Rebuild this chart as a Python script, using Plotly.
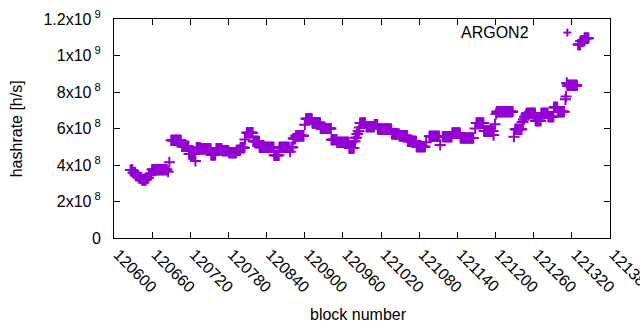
import plotly.graph_objects as go

# runs of consecutive blocks sharing the same hashrate
run_start = [120626, 120630, 120634, 120639, 120644, 120651, 120655, 120660, 120685, 120687,
             120690, 120707, 120718, 120728, 120730, 120736, 120753, 120761, 120770, 120781,
             120793, 120799, 120806, 120809, 120819, 120829, 120852, 120860, 120877, 120879,
             120882, 120886, 120900, 120902, 120912, 120925, 120942, 120951, 120970, 120978,
             120980, 120982, 120984, 120986, 120987, 120997, 121010, 121015, 121037, 121049,
             121062, 121076, 121091, 121096, 121113, 121117, 121132, 121145, 121168, 121170,
             121182, 121197, 121199, 121201, 121202, 121229, 121231, 121242, 121244, 121246,
             121248, 121249, 121263, 121272, 121283, 121292, 121298, 121310, 121311, 121312,
             121313, 121330, 121334, 121340]
run_end = [120629, 120633, 120638, 120643, 120650, 120654, 120658, 120683, 120685, 120687,
           120705, 120717, 120727, 120728, 120735, 120752, 120759, 120769, 120780, 120792,
           120798, 120805, 120806, 120818, 120828, 120851, 120859, 120875, 120877, 120881,
           120885, 120898, 120900, 120911, 120924, 120941, 120950, 120969, 120977, 120979,
           120981, 120983, 120985, 120986, 120995, 121009, 121014, 121036, 121048, 121061,
           121075, 121089, 121091, 121111, 121113, 121131, 121144, 121165, 121168, 121181,
           121196, 121197, 121199, 121201, 121227, 121229, 121241, 121243, 121245, 121247,
           121248, 121262, 121271, 121282, 121291, 121297, 121308, 121310, 121311, 121312,
           121328, 121333, 121339, 121346]
run_hashrate = [3.72e8, 3.58e8, 3.42e8, 3.30e8, 3.18e8, 3.30e8, 3.48e8, 3.75e8, 3.63e8, 4.15e8,
                5.35e8, 5.02e8, 4.60e8, 4.22e8, 4.95e8, 4.88e8, 4.55e8, 4.90e8, 4.78e8, 4.67e8,
                4.80e8, 4.95e8, 5.40e8, 5.77e8, 5.30e8, 4.97e8, 4.53e8, 4.97e8, 4.73e8, 4.97e8,
                5.45e8, 5.60e8, 6.20e8, 6.53e8, 6.31e8, 6.00e8, 5.39e8, 5.24e8, 4.93e8, 5.30e8,
                5.50e8, 5.70e8, 5.85e8, 6.05e8, 6.30e8, 6.10e8, 6.22e8, 5.97e8, 5.70e8, 5.60e8,
                5.30e8, 5.00e8, 5.24e8, 5.57e8, 5.10e8, 5.55e8, 5.75e8, 5.48e8, 6.00e8, 6.30e8,
                5.86e8, 5.64e8, 6.23e8, 6.80e8, 6.92e8, 5.55e8, 5.96e8, 6.35e8, 6.50e8, 6.65e8,
                6.75e8, 6.83e8, 6.43e8, 6.83e8, 6.65e8, 7.16e8, 6.92e8, 7.60e8, 7.75e8, 8.50e8,
                8.36e8, 1.06e9, 1.08e9, 1.095e9]

x_ticks = list(range(120600, 121381, 60))
y_tick_vals = [0, 2e8, 4e8, 6e8, 8e8, 1e9, 1.2e9]
y_tick_text = ["0", "2x10<sup> 8</sup>", "4x10<sup> 8</sup>", "6x10<sup> 8</sup>",
               "8x10<sup> 8</sup>", "1x10<sup> 9</sup>", "1.2x10<sup> 9</sup>"]

blocks, rates = [], []
for s, e, v in zip(run_start, run_end, run_hashrate):
    for b in range(s, e + 1):
        blocks.append(b)
        rates.append(v)

color = "#9400D3"
fig = go.Figure()
fig.add_trace(go.Scatter(
    x=blocks, y=rates, mode="markers", name="ARGON2",
    marker=dict(symbol="cross-thin", size=8, line=dict(color=color, width=2), color=color),
    showlegend=False, cliponaxis=False, hoverinfo="skip",
))

font = dict(family="Liberation Sans, Arial, sans-serif", size=16, color="black")
fig.update_layout(
    width=640, height=330,
    margin=dict(l=114, r=30, t=19, b=92, autoexpand=False),
    paper_bgcolor="white", plot_bgcolor="white",
    font=font,
    xaxis=dict(range=[120599.95, 121380.05], tickvals=x_ticks, ticktext=[str(t) for t in x_ticks],
               tickangle=45, ticks="inside", ticklen=6, showline=True, mirror="ticks",
               linecolor="black", linewidth=1, tickcolor="black", showgrid=False, zeroline=False,
               automargin=False, tickfont=font, ticklabeloverflow="allow", ticklabelshift=4),
    yaxis=dict(range=[0, 1.2e9], tickvals=y_tick_vals, ticktext=y_tick_text,
               ticks="inside", ticklen=6, showline=True, mirror="ticks",
               linecolor="black", linewidth=1, tickcolor="black", showgrid=False, zeroline=False,
               automargin=False, tickfont=font, ticklabelstandoff=9),
    annotations=[
        dict(text="ARGON2", xref="paper", yref="paper", x=0.8407, y=0.9406,
             xanchor="right", yanchor="middle", showarrow=False, font=font),
        dict(text="hashrate [h/s]", xref="paper", yref="paper", x=-0.196, y=0.5,
             xanchor="center", yanchor="middle", textangle=-90, showarrow=False, font=font),
        dict(text="block number", xref="paper", yref="paper", x=0.493, y=-0.35,
             xanchor="center", yanchor="middle", showarrow=False, font=font),
    ],
    shapes=[
        dict(type="line", xref="paper", yref="paper", xsizemode="pixel", ysizemode="pixel",
             xanchor=0.914, yanchor=0.938, x0=-4, x1=4, y0=0, y1=0,
             line=dict(color=color, width=2)),
        dict(type="line", xref="paper", yref="paper", xsizemode="pixel", ysizemode="pixel",
             xanchor=0.914, yanchor=0.938, x0=0, x1=0, y0=-4, y1=4,
             line=dict(color=color, width=2)),
    ],
)
fig.write_html("out.html", config={"displayModeBar": False},
               post_script="document.body.style.margin='0';document.body.style.overflow='hidden';")
